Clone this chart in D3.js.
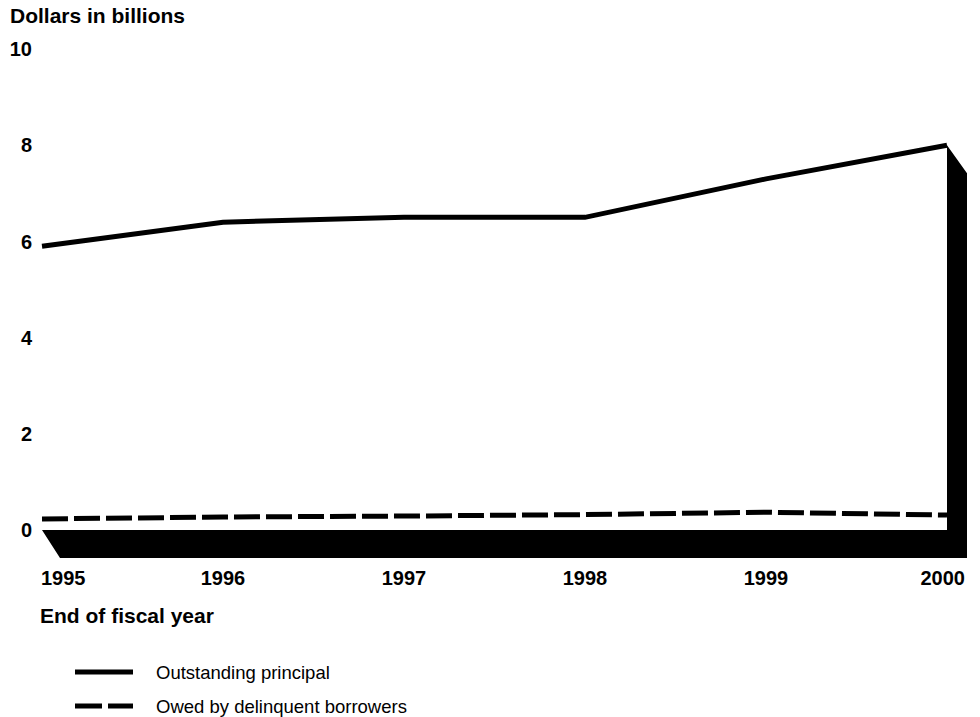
<!DOCTYPE html>
<html>
<head>
<meta charset="utf-8">
<script src="https://cdn.jsdelivr.net/npm/d3@7"></script>
<style>
  body { margin: 0; background: white; }
  text { font-family: "Liberation Sans", Arial, Helvetica, sans-serif; fill: black; }
</style>
</head>
<body>
<div id="svg-container"></div>
<script>
// data
const years = [1995, 1996, 1997, 1998, 1999, 2000];
const principal = [5.9, 6.4, 6.5, 6.5, 7.3, 8.0];
const delinquent = [0.23, 0.27, 0.29, 0.32, 0.37, 0.31];
const yTicks = [0, 2, 4, 6, 8, 10];
const legendLabels = ["Outstanding principal", "Owed by delinquent borrowers"];

const width = 980;
const height = 717;

// 3d floor / wall offset
const DEPTH_X = 20;
const DEPTH_Y = 28;

const LINE_W = 5;
const DASH = "26,6";

const svg = d3
  .select("#svg-container")
  .append("svg")
  .attr("width", width)
  .attr("height", height);

const x = d3.scaleLinear().domain([1995, 2000]).range([42, 947]);
const y = d3.scaleLinear().domain([0, 10]).range([530, 49]);

// floor + right wall as one black shape
const x0 = x(years[0]);
const x1 = x(years[years.length - 1]);
const yBase = y(0);
const yTop = y(principal[principal.length - 1]);
const shadow = [
  [x0, yBase],
  [x1, yBase],
  [x1, yTop],
  [x1 + DEPTH_X, yTop + DEPTH_Y],
  [x1 + DEPTH_X, yBase + DEPTH_Y],
  [x0 + DEPTH_X - 2, yBase + DEPTH_Y],
];
svg
  .append("path")
  .attr("d", "M" + shadow.join("L") + "Z")
  .attr("fill", "black");

const line = d3
  .line()
  .x((d, i) => x(years[i]))
  .y((d) => y(d));

svg
  .append("path")
  .attr("d", line(principal))
  .attr("fill", "none")
  .attr("stroke", "black")
  .attr("stroke-width", LINE_W);

svg
  .append("path")
  .attr("d", line(delinquent))
  .attr("fill", "none")
  .attr("stroke", "black")
  .attr("stroke-width", LINE_W)
  .attr("stroke-dasharray", DASH);

// y axis labels
svg
  .append("text")
  .attr("x", 10)
  .attr("y", 23)
  .style("font-size", "21px")
  .style("font-weight", "bold")
  .text("Dollars in billions");

svg
  .append("g")
  .selectAll("text")
  .data(yTicks)
  .enter()
  .append("text")
  .attr("x", 32)
  .attr("y", (d) => y(d))
  .attr("dy", "0.36em")
  .attr("text-anchor", "end")
  .style("font-size", "20px")
  .style("font-weight", "bold")
  .text((d) => d);

// x axis labels (ends kept inside the frame)
svg
  .append("g")
  .selectAll("text")
  .data(years)
  .enter()
  .append("text")
  .attr("x", (d, i) => (i === 0 ? x0 - 1 : i === years.length - 1 ? x1 + DEPTH_X - 2 : x(d)))
  .attr("y", 585)
  .attr("text-anchor", (d, i) => (i === 0 ? "start" : i === years.length - 1 ? "end" : "middle"))
  .style("font-size", "20px")
  .style("font-weight", "bold")
  .text((d) => d);

svg
  .append("text")
  .attr("x", 40)
  .attr("y", 623)
  .style("font-size", "21px")
  .style("font-weight", "bold")
  .text("End of fiscal year");

// legend
const legend = svg
  .append("g")
  .selectAll("g")
  .data(legendLabels)
  .enter()
  .append("g")
  .attr("transform", (d, i) => `translate(75, ${672 + i * 34})`);

legend
  .append("line")
  .attr("x1", 0)
  .attr("x2", 58)
  .attr("stroke", "black")
  .attr("stroke-width", LINE_W)
  .attr("stroke-dasharray", (d, i) => (i === 1 ? "27,6" : null));

legend
  .append("text")
  .attr("x", 81)
  .attr("dy", "0.36em")
  .style("font-size", "18.5px")
  .text((d) => d);
</script>
</body>
</html>
